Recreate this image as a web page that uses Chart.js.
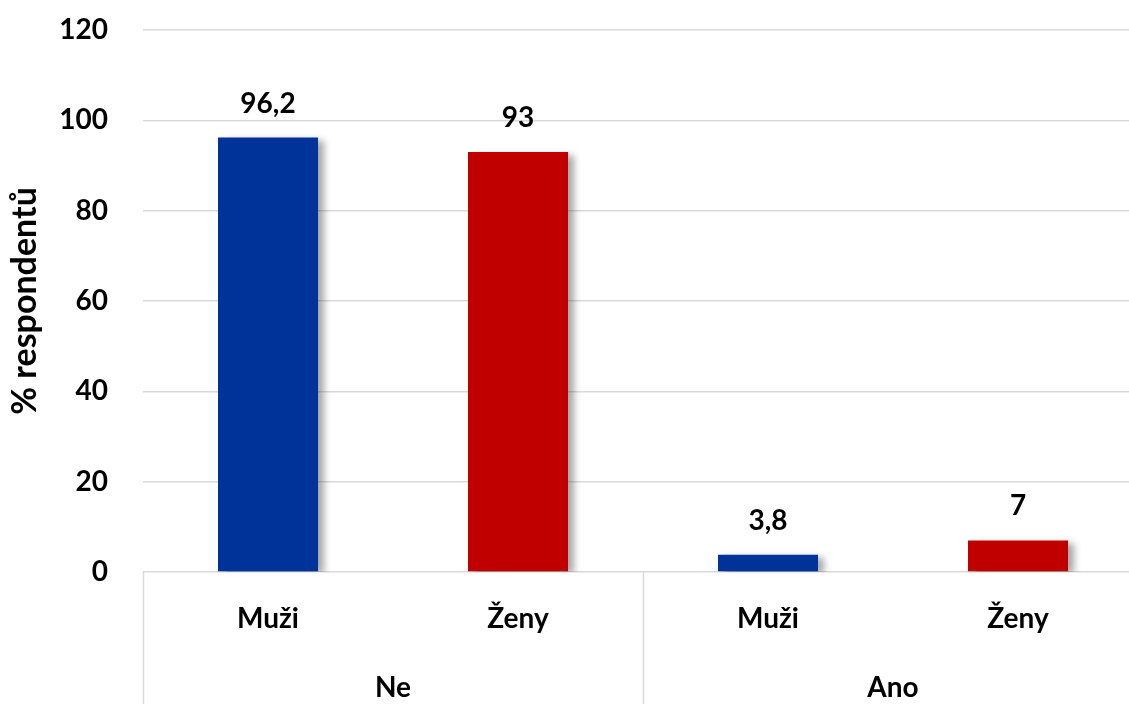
<!DOCTYPE html>
<html>
<head>
<meta charset="utf-8">
<script src="https://cdn.jsdelivr.net/npm/chart.js@4.4.1/dist/chart.umd.min.js"></script>
<style>
  html, body { margin: 0; padding: 0; background: #fff; overflow: hidden; }
  #wrap { width: 1160px; height: 704px; }
</style>
</head>
<body>
<div id="wrap"><canvas id="chart"></canvas></div>
<script>
// categories and values
const categories = ["Muži", "Ženy", "Muži", "Ženy"];
const groups = ["Ne", "Ano"];
const values = [96.2, 93, 3.8, 7];
const barColors = ["#003399", "#C00000", "#003399", "#C00000"];
const yTicks = [0, 20, 40, 60, 80, 100, 120];

const FONT = "Lato, 'Liberation Sans', sans-serif";
const GRID = "#d9d9d9";

// soft shadow behind the bars
const barShadow = {
  id: "barShadow",
  beforeDatasetsDraw(chart) {
    const ctx = chart.ctx;
    ctx.save();
    ctx.shadowColor = "rgba(0,0,0,0.35)";
    ctx.shadowBlur = 7;
    ctx.shadowOffsetX = 6;
    ctx.shadowOffsetY = 3;
  },
  afterDatasetsDraw(chart) {
    chart.ctx.restore();
  }
};

// value labels above each bar
const valueLabels = {
  id: "valueLabels",
  afterDatasetsDraw(chart) {
    const ctx = chart.ctx;
    const meta = chart.getDatasetMeta(0);
    ctx.save();
    ctx.font = "bold 28px " + FONT;
    ctx.fillStyle = "#000";
    ctx.textAlign = "center";
    ctx.textBaseline = "bottom";
    meta.data.forEach((bar, i) => {
      const txt = String(values[i]).replace(".", ",");
      ctx.fillText(txt, bar.x, bar.y - 20);
    });
    ctx.restore();
  }
};

// vertical separators between the outer groups, down through both label rows
const groupLines = {
  id: "groupLines",
  afterDraw(chart) {
    const g = chart.scales.x2;
    const step = g.width / groups.length;
    const ctx = chart.ctx;
    ctx.save();
    ctx.strokeStyle = GRID;
    ctx.lineWidth = 1.5;
    for (let i = 0; i <= groups.length; i++) {
      const px = Math.round(g.left + step * i) + 0.5;
      ctx.beginPath();
      ctx.moveTo(px, chart.chartArea.bottom);
      ctx.lineTo(px, chart.height);
      ctx.stroke();
    }
    ctx.restore();
  }
};

new Chart(document.getElementById("chart"), {
  type: "bar",
  data: {
    labels: categories,
    datasets: [{
      data: values,
      backgroundColor: barColors,
      barPercentage: 0.4,
      categoryPercentage: 1.0
    }]
  },
  options: {
    responsive: true,
    maintainAspectRatio: false,
    animation: false,
    layout: { padding: { top: 30, right: 17, left: 0, bottom: 0 } },
    plugins: { legend: { display: false }, tooltip: { enabled: false } },
    scales: {
      y: {
        min: 0,
        max: 120,
        afterBuildTicks(scale) {
          scale.ticks = yTicks.map(v => ({ value: v }));
        },
        afterFit(scale) {
          scale.width = 143;
          scale.paddingTop = 0;
          scale.paddingBottom = 0;
        },
        grid: { color: GRID, lineWidth: 1.5, drawTicks: false },
        border: { display: false },
        ticks: {
          color: "#000",
          padding: 35,
          font: { family: FONT, size: 28, weight: "bold" }
        },
        title: {
          display: true,
          text: "% respondentů",
          color: "#000",
          padding: { top: 5, bottom: 0 },
          font: { family: FONT, size: 34, weight: "bold" }
        }
      },
      x: {
        weight: 0,
        afterFit(scale) { scale.height = 62; },
        grid: { display: false, drawTicks: false },
        border: { display: false },
        ticks: {
          color: "#000",
          padding: 30,
          font: { family: FONT, size: 28, weight: "bold" }
        }
      },
      x2: {
        type: "category",
        position: "bottom",
        weight: 1,
        labels: groups,
        offset: true,
        afterFit(scale) { scale.height = 70; },
        grid: { display: false, drawTicks: false },
        border: { display: false },
        ticks: {
          color: "#000",
          padding: 37,
          font: { family: FONT, size: 28, weight: "bold" }
        }
      }
    }
  },
  plugins: [barShadow, valueLabels, groupLines]
});
</script>
</body>
</html>
